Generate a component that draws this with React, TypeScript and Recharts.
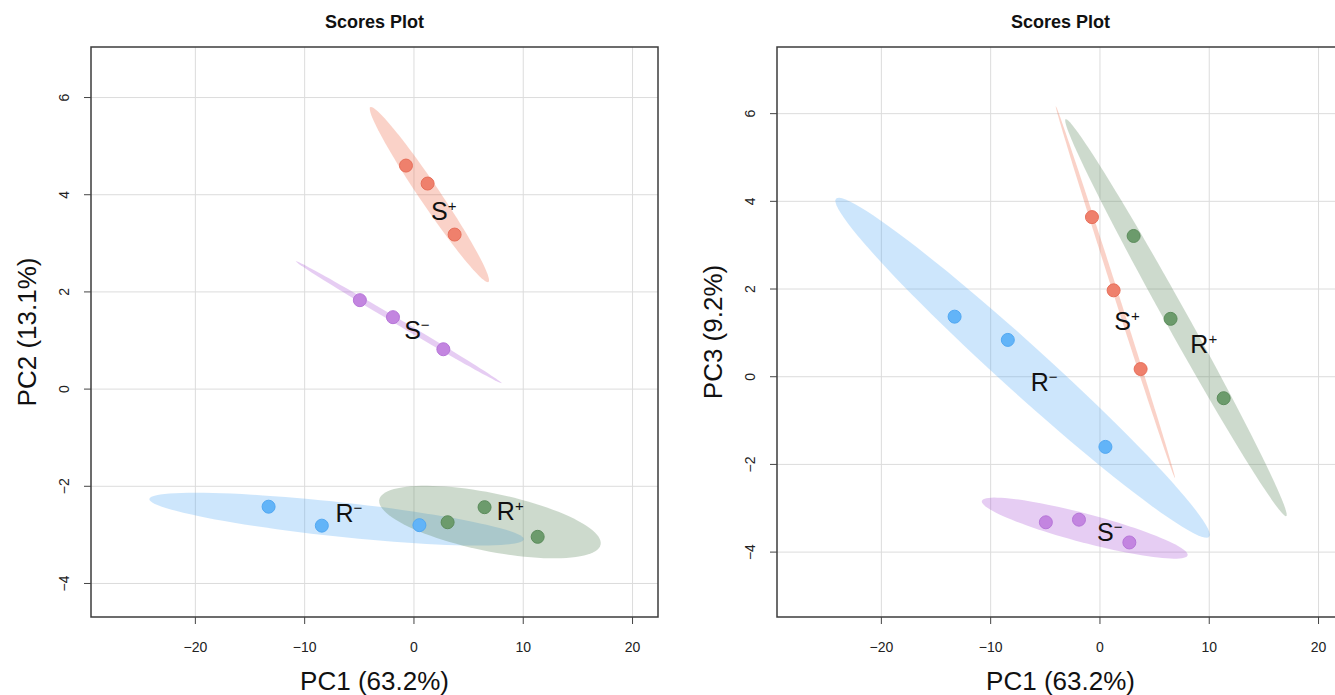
import React from 'react';
import { ScatterChart, Scatter, XAxis, YAxis, CartesianGrid, ReferenceArea } from 'recharts';

const FONT = '"Liberation Sans", Arial, Helvetica, sans-serif';

// groups in drawing order
const groupLetters = ['R', 'R', 'S', 'S'];
const groupSigns = ['\u2212', '+', '\u2212', '+'];
const pointColors = ['#62B4F8', '#6C9B6C', '#C385E0', '#EF806C'];
const pointBorders = ['#52A8F2', '#5C8C5C', '#B676D8', '#E76F5A'];
const ellipseColors = ['#58ACF5', '#588458', '#AC58D7', '#EE6948'];

// PC1 scores (same for both plots)
const pc1RMinus = [-13.3, -8.43, 0.5];
const pc1RPlus = [3.08, 6.46, 11.32];
const pc1SMinus = [-4.95, -1.92, 2.69];
const pc1SPlus = [-0.73, 1.25, 3.72];

// PC2 scores
const pc2RMinus = [-2.42, -2.81, -2.8];
const pc2RPlus = [-2.74, -2.43, -3.04];
const pc2SMinus = [1.83, 1.48, 0.82];
const pc2SPlus = [4.6, 4.23, 3.18];

// PC3 scores
const pc3RMinus = [1.37, 0.84, -1.6];
const pc3RPlus = [3.21, 1.32, -0.49];
const pc3SMinus = [-3.32, -3.26, -3.78];
const pc3SPlus = [3.64, 1.97, 0.175];

// group label anchors (score units)
const labelPc12X = [-5.95, 8.81, 0.27, 2.72];
const labelPc12Y = [-2.55, -2.51, 1.22, 3.66];
const labelPc13X = [-5.1, 9.5, 0.9, 2.47];
const labelPc13Y = [-0.13, 0.75, -3.54, 1.26];

const xTicks = [-20, -10, 0, 10, 20];
const yTicks = [-4, -2, 0, 2, 4, 6];

const pc1Groups = [pc1RMinus, pc1RPlus, pc1SMinus, pc1SPlus];
const pc2Groups = [pc2RMinus, pc2RPlus, pc2SMinus, pc2SPlus];
const pc3Groups = [pc3RMinus, pc3RPlus, pc3SMinus, pc3SPlus];

const mean = (a: number[]) => a.reduce((s, v) => s + v, 0) / a.length;

// 95% confidence ellipse, same construction as ellipse::ellipse(cov, centre, level = 0.95)
function confEllipse(xs: number[], ys: number[], npoints = 100) {
  const mx = mean(xs);
  const my = mean(ys);
  const n = xs.length;
  let sxx = 0, syy = 0, sxy = 0;
  for (let i = 0; i < n; i++) {
    sxx += (xs[i] - mx) ** 2;
    syy += (ys[i] - my) ** 2;
    sxy += (xs[i] - mx) * (ys[i] - my);
  }
  sxx /= n - 1; syy /= n - 1; sxy /= n - 1;
  const sx = Math.sqrt(sxx);
  const sy = Math.sqrt(syy);
  const d = Math.acos(Math.max(-1, Math.min(1, sxy / (sx * sy))));
  const t = Math.sqrt(5.991465);
  const out: { x: number; y: number }[] = [];
  for (let i = 0; i < npoints; i++) {
    const a = (2 * Math.PI * i) / (npoints - 1);
    out.push({ x: t * sx * Math.cos(a + d / 2) + mx, y: t * sy * Math.cos(a - d / 2) + my });
  }
  return out;
}

const fmt = (v: number) => String(v).replace('-', '\u2212');

const hidden = () => <g />;

const ellipseLine = (color: string) => (p: any) => {
  const pts = p.points || [];
  if (!pts.length) return <g />;
  const d = pts.map((pt: any, i: number) => `${i ? 'L' : 'M'}${pt.x},${pt.y}`).join('') + 'Z';
  return <path d={d} fill={color} fillOpacity={0.3} stroke="none" />;
};

const XTick = (p: any) => (
  <text x={p.x} y={p.y + 26} textAnchor="middle" fontSize={14} fontFamily={FONT} fill="#222">
    {fmt(p.payload.value)}
  </text>
);

const YTick = (p: any) => {
  const bx = p.x - 13;
  return (
    <text
      x={bx}
      y={p.y}
      transform={`rotate(-90, ${bx}, ${p.y})`}
      textAnchor="middle"
      fontSize={14}
      fontFamily={FONT}
      fill="#222"
    >
      {fmt(p.payload.value)}
    </text>
  );
};

interface ScorePlotProps {
  left: number;
  width: number;
  marginLeft: number;
  marginRight: number;
  title: string;
  yTitle: string;
  ys: number[][];
  labelX: number[];
  labelY: number[];
  yDomain: [number, number];
}

const xDomain: [number, number] = [-29.55, 22.33];

function ScorePlot({ left, width, marginLeft, marginRight, title, yTitle, ys, labelX, labelY, yDomain }: ScorePlotProps) {
  const plotLeft = marginLeft + 60;
  const plotWidth = width - plotLeft - marginRight;
  return (
    <div style={{ position: 'absolute', left, top: 0, width, height: 695 }}>
      <div
        style={{
          position: 'absolute',
          left: plotLeft + plotWidth / 2 - 150,
          width: 300,
          top: 13,
          textAlign: 'center',
          fontFamily: FONT,
          fontWeight: 'bold',
          fontSize: 18,
          lineHeight: '18px',
          color: '#111',
        }}
      >
        {title}
      </div>
      <ScatterChart width={width} height={695} margin={{ top: 47, right: marginRight, bottom: 18, left: marginLeft }}>
        <CartesianGrid stroke="#dcdcdc" strokeWidth={1} verticalValues={xTicks} horizontalValues={yTicks} />
        <XAxis
          type="number"
          dataKey="x"
          domain={xDomain}
          allowDataOverflow
          ticks={xTicks}
          height={60}
          axisLine={false}
          tickLine={{ stroke: '#444' }}
          tickSize={7}
          tick={XTick}
          label={{
            content: (lp: any) => {
              const vb = lp.viewBox || { x: plotLeft, y: 617, width: plotWidth, height: 60 };
              return (
                <text x={vb.x + vb.width / 2} y={vb.y + 73} textAnchor="middle" fontSize={26} fontFamily={FONT} fill="#111">
                  PC1 (63.2%)
                </text>
              );
            },
          }}
        />
        <YAxis
          type="number"
          dataKey="y"
          domain={yDomain}
          allowDataOverflow
          ticks={yTicks}
          width={60}
          axisLine={false}
          tickLine={{ stroke: '#444' }}
          tickSize={7}
          tick={YTick}
          label={{
            content: (lp: any) => {
              const vb = lp.viewBox || { x: marginLeft, y: 47, width: 60, height: 570 };
              const bx = vb.x + vb.width - 55;
              const cy = vb.y + vb.height / 2;
              return (
                <text
                  x={bx}
                  y={cy}
                  transform={`rotate(-90, ${bx}, ${cy})`}
                  textAnchor="middle"
                  fontSize={26}
                  fontFamily={FONT}
                  fill="#111"
                >
                  {yTitle}
                </text>
              );
            },
          }}
        />
        {pc1Groups.map((xs, g) => (
          <Scatter
            key={`ell-${g}`}
            data={confEllipse(xs, ys[g])}
            isAnimationActive={false}
            shape={hidden}
            line={ellipseLine(ellipseColors[g])}
            lineType="joint"
            legendType="none"
          />
        ))}
        {pc1Groups.map((xs, g) => (
          <Scatter
            key={`pts-${g}`}
            data={xs.map((x, i) => ({ x, y: ys[g][i] }))}
            isAnimationActive={false}
            shape={(p: any) => (
              <circle cx={p.cx} cy={p.cy} r={6.5} fill={pointColors[g]} stroke={pointBorders[g]} strokeWidth={1} />
            )}
          />
        ))}
        <Scatter
          data={labelX.map((x, g) => ({ x, y: labelY[g], g }))}
          isAnimationActive={false}
          shape={(p: any) => (
            <text x={p.cx} y={p.cy + 9} textAnchor="middle" fontSize={25} fontFamily={FONT} fill="#111">
              {groupLetters[p.payload.g]}
              <tspan fontSize={15} dy={-9}>
                {groupSigns[p.payload.g]}
              </tspan>
            </text>
          )}
        />
        <ReferenceArea
          x1={xDomain[0]}
          x2={xDomain[1]}
          y1={yDomain[0]}
          y2={yDomain[1]}
          fill="none"
          fillOpacity={0}
          stroke="#3c3c3c"
          strokeWidth={1.5}
          ifOverflow="visible"
        />
      </ScatterChart>
    </div>
  );
}

export default function App() {
  return (
    <div
      style={{
        position: 'absolute',
        left: 0,
        top: 0,
        width: 1335,
        height: 695,
        overflow: 'hidden',
        background: '#fff',
      }}
    >
      <ScorePlot
        left={0}
        width={667}
        marginLeft={31}
        marginRight={9}
        title="Scores Plot"
        yTitle="PC2 (13.1%)"
        ys={pc2Groups}
        labelX={labelPc12X}
        labelY={labelPc12Y}
        yDomain={[-4.69, 7.04]}
      />
      <ScorePlot
        left={667}
        width={690}
        marginLeft={50}
        marginRight={13}
        title="Scores Plot"
        yTitle="PC3 (9.2%)"
        ys={pc3Groups}
        labelX={labelPc13X}
        labelY={labelPc13Y}
        yDomain={[-5.48, 7.52]}
      />
    </div>
  );
}
